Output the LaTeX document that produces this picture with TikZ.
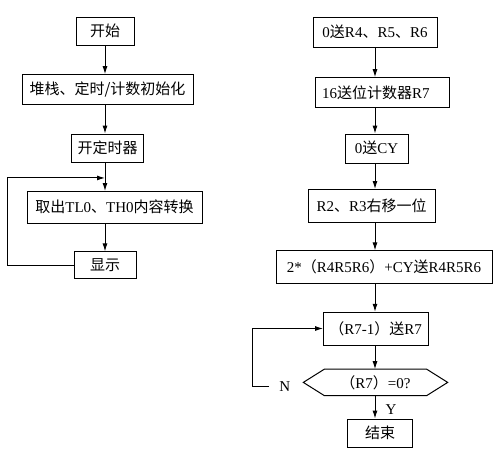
\documentclass[tikz,border=0pt]{standalone}
\usepackage{fontspec}
\setmainfont{Liberation Serif}
\newfontfamily\cjk{Noto Sans CJK SC}
\usepackage{tikz}
\usetikzlibrary{arrows.meta, positioning, calc}
\newcommand\zh[1]{{\cjk #1}}

\begin{document}
\begin{tikzpicture}[x=1pt, y=-1pt,
        box/.style={draw, rectangle, minimum height=30pt, inner xsep=6pt, font=\fontsize{15}{18}\selectfont},
        decision/.style={rectangle, minimum width=102pt, minimum height=26pt, inner sep=0pt, font=\fontsize{15}{18}\selectfont},
        label/.style={inner sep=2pt, font=\fontsize{15}{18}\selectfont},
        arr/.style={line width=1pt, -{Latex[length=8pt,width=5pt]}},
        line/.style={line width=1pt}
    ]
        \useasboundingbox (0,0) rectangle (500,452);

        % timer program
        \node[box, minimum width=58pt, minimum height=28pt] at (105,31) (start) {\zh{开始}};
        \node[box, minimum width=171pt, below=29pt of start, xshift=2.5pt] (init) {\zh{堆栈、定时/计数初始化}};
        \node[box, minimum width=68pt, minimum height=28pt, below=29pt of init] (timer) {\zh{开定时器}};
        \node[box, minimum width=175pt, minimum height=32pt, below=29pt of timer, xshift=7pt] (conv) {\zh{取出}TL0\zh{、}TH0\zh{内容转换}};
        \node[box, minimum width=62pt, minimum height=27pt, below=28pt of conv, xshift=-9.5pt] (show) {\zh{显示}};

        % conversion program
        \node[box, minimum width=124pt] at (375,32) (clr) {0\zh{送}R4\zh{、}R5\zh{、}R6};
        \node[box, text width=120pt, align=left, inner xsep=7pt, below=30pt of clr, xshift=7pt] (cnt) {16\zh{送位计数器}R7};
        \node[box, minimum width=63pt, minimum height=29pt, below=26pt of cnt, xshift=-5.5pt] (cy) {0\zh{送}CY};
        \node[box, minimum width=127pt, minimum height=33pt, below=26pt of cy, xshift=-5pt] (shift) {R2\zh{、}R3\zh{右移一位}};
        \node[box, minimum width=216pt, minimum height=33pt, below=28pt of shift, xshift=12.5pt] (dbl) {2*\zh{（}R4R5R6\zh{）}+CY\zh{送}R4R5R6};
        \node[box, minimum width=103pt, minimum height=33pt, below=28pt of dbl, xshift=-8.5pt] (dec) {\zh{（}R7-1\zh{）送}R7};
        \node[decision, below=24pt of dec] (test) {\zh{（}R7\zh{）}=0?};
        \node[box, minimum width=65pt, minimum height=28pt, below=23pt of test, xshift=4.5pt] (stop) {\zh{结束}};
        \node[label, left=32pt of test.west, yshift=-4pt] (no) {N};

        % hexagon round the test
        \draw[line] ([xshift=-21pt]test.west) -- (test.north west) -- (test.north east)
            -- ([xshift=21pt]test.east) -- (test.south east) -- (test.south west) -- cycle;

        % left arrows
        \draw[arr] (start.south) -- (start.south |- init.north);
        \draw[arr] (start.south |- init.south) -- (start.south |- timer.north);
        \draw[arr] (start.south |- timer.south) -- (start.south |- conv.north);
        \draw[arr] (start.south |- conv.south) -- (start.south |- show.north);
        \draw[arr] (show.west) -- ++(-66pt,0) |- ($(start.south |- timer.south)!0.55!(start.south |- conv.north)$);

        % right arrows
        \draw[arr] (clr.south) -- (clr.south |- cnt.north);
        \draw[arr] (clr.south |- cnt.south) -- (clr.south |- cy.north);
        \draw[arr] (clr.south |- cy.south) -- (clr.south |- shift.north);
        \draw[arr] (clr.south |- shift.south) -- (clr.south |- dbl.north);
        \draw[arr] (clr.south |- dbl.south) -- (clr.south |- dec.north);
        \draw[arr] (clr.south |- dec.south) -- (clr.south |- test.north);
        \draw[arr] (clr.south |- test.south) -- node[label, pos=0.6, right=8pt] {Y} (clr.south |- stop.north);
        \draw[arr] ([xshift=-8pt]no.west) -- ++(-17pt,0) |- (dec.west);

    \end{tikzpicture}
\end{document}
